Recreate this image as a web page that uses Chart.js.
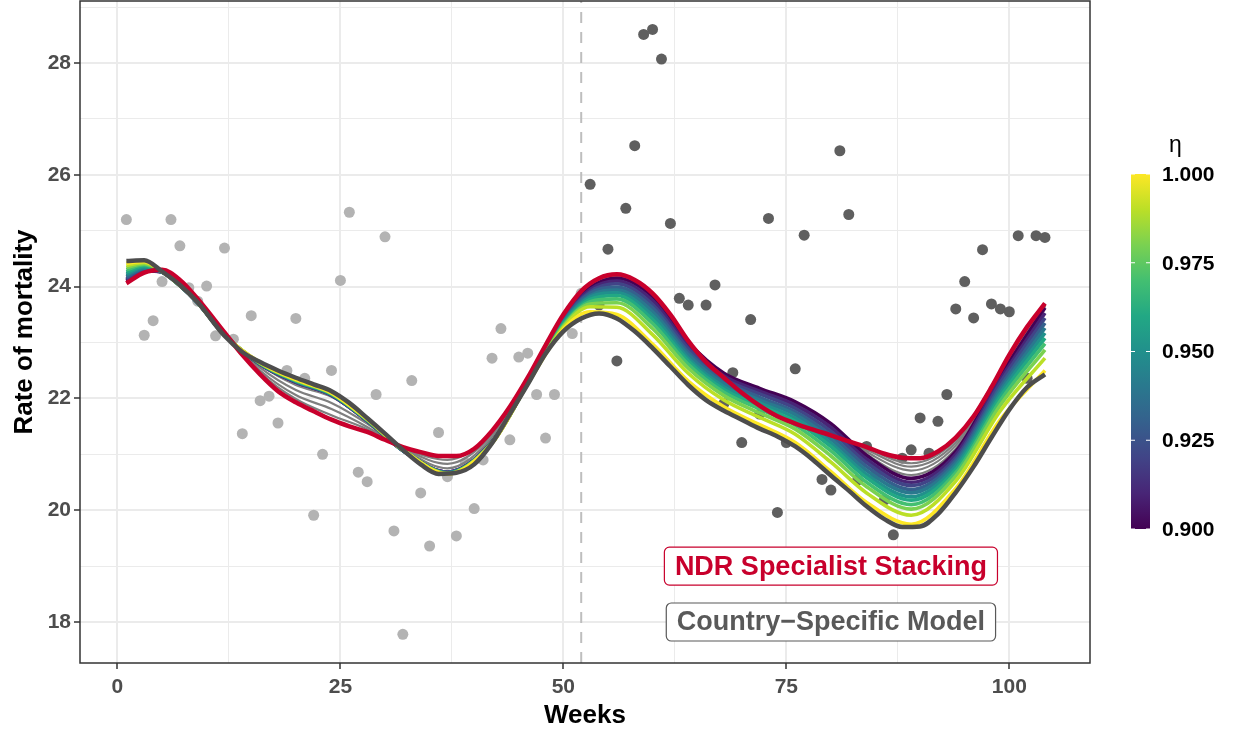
<!DOCTYPE html>
<html>
<head>
<meta charset="utf-8">
<title>Rate of mortality by week</title>
<script src="https://cdn.jsdelivr.net/npm/chart.js@4.4.1/dist/chart.umd.min.js"></script>
<style>
	html, body { margin: 0; padding: 0; background: #ffffff; }
	#wrap { width: 1235px; height: 732px; position: relative; }
</style>
</head>
<body>
<div id="wrap"><canvas id="chart"></canvas></div>
<script>
// Observed weekly rates: weeks 1-52 (light) and 53-104 (dark, after the cut)
const earlyWeeks = [1, 2, 3, 4, 5, 6, 7, 8, 9, 10, 11, 12, 13, 14, 15, 16, 17, 18, 19, 20, 21, 22, 23, 24, 25, 26,
	27, 28, 29, 30, 31, 32, 33, 34, 35, 36, 37, 38, 39, 40, 41, 42, 43, 44, 45, 46, 47, 48, 49, 50, 51, 52];
const earlyRates = [25.20, 24.25, 23.13, 23.39, 24.09, 25.20, 24.73, 23.98, 23.74, 24.01,
	23.12, 24.69, 23.06, 21.37, 23.48, 21.96, 22.04, 21.56, 22.50, 23.43,
	22.36, 19.91, 21.00, 22.50, 24.11, 25.33, 20.68, 20.51, 22.07, 24.89,
	19.63, 17.78, 22.32, 20.31, 19.36, 21.39, 20.60, 19.54, 20.85, 20.03,
	20.90, 22.72, 23.25, 21.26, 22.74, 22.81, 22.07, 21.29, 22.07, 23.35,
	23.16, 23.88];
const lateWeeks = [53, 54, 55, 56, 57, 58, 59, 60, 61, 62, 63, 64, 65, 66, 67, 68, 69, 70, 71, 72, 73, 74, 75, 76, 77, 78,
	79, 80, 81, 82, 83, 84, 85, 86, 87, 88, 89, 90, 91, 92, 93, 94, 95, 96, 97, 98, 99, 100, 101, 102, 103, 104];
const lateRates = [25.83, 23.67, 24.67, 22.67, 25.40, 26.52, 28.51, 28.60, 28.07, 25.13,
	23.79, 23.67, 22.60, 23.67, 24.03, 21.91, 22.46, 21.21, 23.41, 21.72,
	25.22, 19.96, 21.21, 22.53, 24.92, 21.55, 20.55, 20.36, 26.43, 25.29,
	20.54, 21.14, 20.64, 20.18, 19.56, 20.93, 21.08, 21.65, 21.02, 21.59,
	22.07, 23.60, 24.09, 23.44, 24.66, 23.69, 23.60, 23.55, 24.91, 22.36,
	24.91, 24.88];
const cutWeek = 52;

// The two highlighted fits
const curveWeeks = [1, 3, 5, 7, 9, 12, 14, 16, 18, 20, 22, 24, 26, 28, 30, 32, 34, 36, 38, 40, 42, 44, 46, 48, 50, 52,
	54, 56, 58, 60, 62, 64, 66, 68, 70, 72, 74, 76, 78, 80, 82, 84, 86, 88, 90, 92, 94, 96, 98, 100, 102, 104];
const countryFit = [24.46, 24.47, 24.27, 24.03, 23.72, 23.12,
	22.83, 22.65, 22.50, 22.37, 22.25, 22.13, 21.92, 21.65, 21.37, 21.08,
	20.82, 20.65, 20.67, 20.82, 21.20, 21.72, 22.25, 22.80, 23.20, 23.43,
	23.52, 23.43, 23.20, 22.90, 22.57, 22.24, 21.97, 21.78, 21.62, 21.46,
	21.32, 21.14, 20.90, 20.62, 20.35, 20.07, 19.84, 19.70, 19.71, 19.93,
	20.32, 20.78, 21.30, 21.80, 22.20, 22.43];
const ndrFit = [24.06, 24.25, 24.30, 24.12, 23.78, 23.18,
	22.78, 22.43, 22.13, 21.93, 21.77, 21.62, 21.50, 21.40, 21.26, 21.13,
	21.04, 20.97, 20.97, 21.10, 21.42, 21.85, 22.37, 22.95, 23.50, 23.92,
	24.15, 24.22, 24.12, 23.88, 23.50, 23.03, 22.65, 22.37, 22.10, 21.87,
	21.68, 21.55, 21.44, 21.34, 21.23, 21.13, 21.01, 20.94, 20.93, 21.05,
	21.30, 21.68, 22.20, 22.78, 23.28, 23.70];

// Fits for each eta (0.90 ... 1.00) and the grey ones below the colour limits
const fanWeeks = [1, 3, 5, 7, 9, 12, 16, 20, 24, 28, 32, 37, 42, 46, 50, 53, 56, 60, 64, 68, 72, 76, 80, 84, 89, 94, 99, 104];
const eta090 = [24.10, 24.28, 24.26, 24.02, 23.71, 23.14, 22.61, 22.29, 22.06, 21.60, 21.07, 20.68, 21.22, 22.28, 23.45, 23.98, 24.15, 23.82, 23.00, 22.45, 22.18, 21.94, 21.55, 20.98, 20.57, 21.05, 22.40, 23.62];
const eta091 = [24.12, 24.29, 24.26, 24.02, 23.71, 23.14, 22.61, 22.29, 22.06, 21.60, 21.07, 20.68, 21.22, 22.28, 23.43, 23.95, 24.10, 23.75, 22.94, 22.40, 22.13, 21.88, 21.48, 20.91, 20.50, 21.00, 22.34, 23.53];
const eta092 = [24.14, 24.30, 24.26, 24.02, 23.71, 23.14, 22.61, 22.30, 22.06, 21.60, 21.07, 20.68, 21.22, 22.28, 23.41, 23.91, 24.05, 23.68, 22.89, 22.35, 22.08, 21.82, 21.41, 20.85, 20.44, 20.94, 22.28, 23.44];
const eta093 = [24.17, 24.32, 24.26, 24.02, 23.71, 23.14, 22.62, 22.30, 22.07, 21.61, 21.07, 20.67, 21.22, 22.28, 23.39, 23.88, 23.99, 23.62, 22.83, 22.31, 22.02, 21.76, 21.34, 20.78, 20.37, 20.89, 22.21, 23.35];
const eta094 = [24.20, 24.33, 24.26, 24.02, 23.71, 23.13, 22.62, 22.31, 22.07, 21.61, 21.07, 20.67, 21.21, 22.27, 23.37, 23.84, 23.94, 23.55, 22.78, 22.26, 21.97, 21.71, 21.27, 20.71, 20.31, 20.84, 22.15, 23.26];
const eta095 = [24.23, 24.35, 24.26, 24.02, 23.71, 23.13, 22.62, 22.31, 22.08, 21.61, 21.07, 20.67, 21.21, 22.27, 23.35, 23.81, 23.89, 23.48, 22.72, 22.21, 21.92, 21.65, 21.20, 20.64, 20.24, 20.79, 22.09, 23.17];
const eta096 = [24.26, 24.37, 24.27, 24.02, 23.71, 23.13, 22.63, 22.32, 22.08, 21.62, 21.08, 20.66, 21.21, 22.27, 23.33, 23.77, 23.84, 23.41, 22.67, 22.16, 21.87, 21.59, 21.14, 20.58, 20.18, 20.73, 22.03, 23.08];
const eta097 = [24.30, 24.39, 24.27, 24.02, 23.72, 23.13, 22.63, 22.32, 22.09, 21.62, 21.08, 20.66, 21.21, 22.27, 23.31, 23.73, 23.78, 23.34, 22.61, 22.11, 21.81, 21.52, 21.06, 20.50, 20.10, 20.67, 21.96, 22.98];
const eta098 = [24.34, 24.41, 24.27, 24.02, 23.72, 23.13, 22.63, 22.33, 22.09, 21.62, 21.08, 20.66, 21.21, 22.26, 23.29, 23.69, 23.71, 23.25, 22.54, 22.05, 21.74, 21.45, 20.97, 20.42, 20.02, 20.61, 21.88, 22.87];
const eta099 = [24.38, 24.43, 24.27, 24.03, 23.72, 23.13, 22.64, 22.33, 22.10, 21.63, 21.08, 20.65, 21.20, 22.26, 23.27, 23.64, 23.63, 23.14, 22.45, 21.97, 21.66, 21.36, 20.86, 20.31, 19.91, 20.52, 21.78, 22.72];
const eta100 = [24.42, 24.45, 24.27, 24.03, 23.72, 23.13, 22.64, 22.34, 22.10, 21.63, 21.08, 20.65, 21.20, 22.26, 23.24, 23.55, 23.50, 22.97, 22.31, 21.85, 21.53, 21.21, 20.69, 20.14, 19.75, 20.39, 21.62, 22.50];
const grey1 = [24.09, 24.27, 24.28, 24.06, 23.73, 23.14, 22.60, 22.24, 22.03, 21.60, 21.08, 20.68, 21.25, 22.28, 23.46, 24.00, 24.17, 23.84, 23.01, 22.43, 22.10, 21.85, 21.50, 21.00, 20.63, 21.10, 22.42, 23.64];
const grey2 = [24.08, 24.26, 24.29, 24.08, 23.74, 23.15, 22.55, 22.15, 21.92, 21.55, 21.10, 20.75, 21.30, 22.31, 23.47, 24.01, 24.18, 23.85, 23.01, 22.41, 22.02, 21.75, 21.45, 21.04, 20.71, 21.16, 22.44, 23.66];
const grey3 = [24.08, 24.26, 24.29, 24.10, 23.76, 23.16, 22.50, 22.06, 21.81, 21.49, 21.11, 20.83, 21.35, 22.33, 23.48, 24.02, 24.19, 23.86, 23.02, 22.40, 21.95, 21.66, 21.40, 21.08, 20.78, 21.21, 22.46, 23.67];
const grey4 = [24.07, 24.25, 24.30, 24.11, 23.77, 23.17, 22.46, 21.99, 21.70, 21.45, 21.12, 20.90, 21.39, 22.35, 23.49, 24.03, 24.20, 23.87, 23.02, 22.38, 21.90, 21.58, 21.36, 21.11, 20.84, 21.26, 22.48, 23.70];

const etaFits = [eta090, eta091, eta092, eta093, eta094, eta095, eta096, eta097, eta098, eta099, eta100];
const greyFits = [grey1, grey2, grey3, grey4];

// Axes and colour bar
const xTicks = [0, 25, 50, 75, 100];
const xMinor = [12.5, 37.5, 62.5, 87.5];
const yTicks = [18, 20, 22, 24, 26, 28];
const yMinor = [19, 21, 23, 25, 27, 29];
const etaTicks = [0.900, 0.925, 0.950, 0.975, 1.000];
const etaMin = 0.9, etaMax = 1.0;

// Boxed labels (text, week, rate)
const tagTexts = ['NDR Specialist Stacking', 'Country\u2212Specific Model'];
const tagWeek = 80;
const tagRates = [19, 18];

// viridis, low eta to high eta
const viridis = ['#440154', '#482576', '#414487', '#35608D', '#2A788E', '#21908C',
	'#22A884', '#43BF71', '#7AD151', '#BBDF27', '#FDE725'];
const ndrColour = '#C8002C';
const countryColour = '#4D4D4D';
const fontFamily = '"Liberation Sans", Arial, Helvetica, sans-serif';

function toPoints( weeks, values ) {
	return weeks.map( function( w, i ) {
		return { x: w, y: values[i] };
	} );
}

function lineSet( weeks, values, colour, width, order ) {
	return {
		data: toPoints( weeks, values ),
		borderColor: colour,
		borderWidth: width,
		borderCapStyle: 'butt',
		borderJoinStyle: 'round',
		pointRadius: 0,
		cubicInterpolationMode: 'monotone',
		fill: false,
		order: order
	};
}

function pointSet( weeks, values, colour, order ) {
	return {
		data: toPoints( weeks, values ),
		showLine: false,
		pointRadius: 5.5,
		pointBackgroundColor: colour,
		pointBorderWidth: 0,
		order: order
	};
}

// Higher order is drawn first (underneath)
let datasets = [];
datasets.push( pointSet( earlyWeeks, earlyRates, '#B3B3B3', 60 ) );
datasets.push( pointSet( lateWeeks, lateRates, '#5F5F5F', 60 ) );
greyFits.forEach( function( g ) {
	datasets.push( lineSet( fanWeeks, g, '#7F7F7F', 2.2, 50 ) );
} );
etaFits.forEach( function( f, i ) {
	datasets.push( lineSet( fanWeeks, f, viridis[i], 3.6, 40 - i ) );
} );
datasets.push( lineSet( curveWeeks, ndrFit, ndrColour, 4.5, 2 ) );
datasets.push( lineSet( curveWeeks, countryFit, countryColour, 4.5, 1 ) );

function isMajor( ctx, majors ) {
	return ctx.tick && majors.indexOf( ctx.tick.value ) !== -1;
}

function drawTag( ctx, text, cx, cy, colour ) {
	ctx.font = 'bold 27px ' + fontFamily;
	const w = ctx.measureText( text ).width + 21;
	const h = 38;
	ctx.beginPath();
	ctx.roundRect( cx - w / 2, cy - h / 2, w, h, 5 );
	ctx.fillStyle = '#ffffff';
	ctx.fill();
	ctx.lineWidth = 1.2;
	ctx.strokeStyle = colour;
	ctx.stroke();
	ctx.fillStyle = colour;
	ctx.textAlign = 'center';
	ctx.textBaseline = 'middle';
	ctx.fillText( text, cx, cy + 1 );
}

const panelPlugin = {
	id: 'panel',
	beforeDraw: function( chart ) {
		const ctx = chart.ctx;
		ctx.save();
		ctx.fillStyle = '#ffffff';
		ctx.fillRect( 0, 0, chart.width, chart.height );
		ctx.restore();
	},
	beforeDatasetsDraw: function( chart ) {
		// dashed line at the cut
		const { ctx, chartArea, scales } = chart;
		const x = scales.x.getPixelForValue( cutWeek );
		ctx.save();
		ctx.strokeStyle = '#BEBEBE';
		ctx.lineWidth = 2;
		ctx.setLineDash( [ 11, 9 ] );
		ctx.beginPath();
		ctx.moveTo( x, chartArea.bottom );
		ctx.lineTo( x, chartArea.top );
		ctx.stroke();
		ctx.restore();
	},
	afterDatasetsDraw: function( chart ) {
		const { ctx, scales } = chart;
		const colours = [ ndrColour, '#595959' ];
		ctx.save();
		tagTexts.forEach( function( t, i ) {
			drawTag( ctx, t, scales.x.getPixelForValue( tagWeek ), scales.y.getPixelForValue( tagRates[i] ), colours[i] );
		} );
		ctx.restore();
	},
	afterDraw: function( chart ) {
		const { ctx, chartArea } = chart;
		ctx.save();

		// panel border
		ctx.strokeStyle = '#333333';
		ctx.lineWidth = 1.5;
		ctx.strokeRect( chartArea.left, chartArea.top, chartArea.right - chartArea.left, chartArea.bottom - chartArea.top );

		// colour bar
		const barLeft = 1131, barTop = 174, barWidth = 19, barHeight = 355;
		const barBottom = barTop + barHeight;
		const grad = ctx.createLinearGradient( 0, barBottom, 0, barTop );
		viridis.forEach( function( c, i ) {
			grad.addColorStop( i / ( viridis.length - 1 ), c );
		} );
		ctx.fillStyle = grad;
		ctx.fillRect( barLeft, barTop, barWidth, barHeight );

		ctx.strokeStyle = '#ffffff';
		ctx.lineWidth = 1;
		ctx.fillStyle = '#000000';
		ctx.font = 'bold 21px ' + fontFamily;
		ctx.textAlign = 'left';
		ctx.textBaseline = 'middle';
		etaTicks.forEach( function( v ) {
			const y = barBottom - ( v - etaMin ) / ( etaMax - etaMin ) * barHeight;
			ctx.beginPath();
			ctx.moveTo( barLeft, y );
			ctx.lineTo( barLeft + 4, y );
			ctx.moveTo( barLeft + barWidth - 4, y );
			ctx.lineTo( barLeft + barWidth, y );
			ctx.stroke();
			ctx.fillText( v.toFixed( 3 ), 1162, y + 1 );
		} );

		ctx.font = '23px ' + fontFamily;
		ctx.fillText( '\u03B7', 1169, 146 );
		ctx.restore();
	}
};

const tickFont = { family: fontFamily, size: 21, weight: 'bold' };
const titleFont = { family: fontFamily, size: 26, weight: 'bold' };

new Chart( document.getElementById( 'chart' ), {
	type: 'line',
	data: { datasets: datasets },
	options: {
		responsive: true,
		maintainAspectRatio: false,
		animation: false,
		devicePixelRatio: 1,
		events: [],
		// no extra room for point overflow, the panel starts at the top
		layout: { autoPadding: false, padding: { top: 1, right: 145, bottom: 0, left: 0 } },
		plugins: {
			legend: { display: false },
			tooltip: { enabled: false }
		},
		scales: {
			x: {
				type: 'linear',
				min: -4.2,
				max: 109.05,
				afterBuildTicks: function( axis ) {
					axis.ticks = xTicks.concat( xMinor ).sort( function( a, b ) { return a - b; } ).map( function( v ) {
						return { value: v };
					} );
				},
				afterFit: function( axis ) {
					axis.height = 69;
					axis.paddingLeft = 0;
					axis.paddingRight = 0;
				},
				ticks: {
					autoSkip: false,
					maxRotation: 0,
					padding: 6,
					color: '#4D4D4D',
					font: tickFont,
					callback: function( v ) {
						return xTicks.indexOf( v ) !== -1 ? String( v ) : '';
					}
				},
				grid: {
					color: '#EBEBEB',
					lineWidth: function( c ) { return isMajor( c, xTicks ) ? 2 : 1; },
					tickColor: function( c ) { return isMajor( c, xTicks ) ? '#333333' : 'rgba(0,0,0,0)'; },
					tickLength: 6,
					tickWidth: 1.5
				},
				border: { display: false },
				title: { display: true, text: 'Weeks', color: '#000000', font: titleFont, padding: { top: 0, bottom: 1 } }
			},
			y: {
				type: 'linear',
				min: 17.267,
				max: 29.109,
				afterBuildTicks: function( axis ) {
					axis.ticks = yTicks.concat( yMinor ).sort( function( a, b ) { return a - b; } ).map( function( v ) {
						return { value: v };
					} );
				},
				afterFit: function( axis ) {
					axis.width = 80;
					axis.paddingTop = 0;
					axis.paddingBottom = 0;
				},
				ticks: {
					autoSkip: false,
					padding: 3,
					color: '#4D4D4D',
					font: tickFont,
					callback: function( v ) {
						return yTicks.indexOf( v ) !== -1 ? String( v ) : '';
					}
				},
				grid: {
					color: '#EBEBEB',
					lineWidth: function( c ) { return isMajor( c, yTicks ) ? 2 : 1; },
					tickColor: function( c ) { return isMajor( c, yTicks ) ? '#333333' : 'rgba(0,0,0,0)'; },
					tickLength: 6,
					tickWidth: 1.5
				},
				border: { display: false },
				title: { display: true, text: 'Rate of mortality', color: '#000000', font: titleFont, padding: { top: 9, bottom: 0 } }
			}
		}
	},
	plugins: [ panelPlugin ]
} );
</script>
</body>
</html>
